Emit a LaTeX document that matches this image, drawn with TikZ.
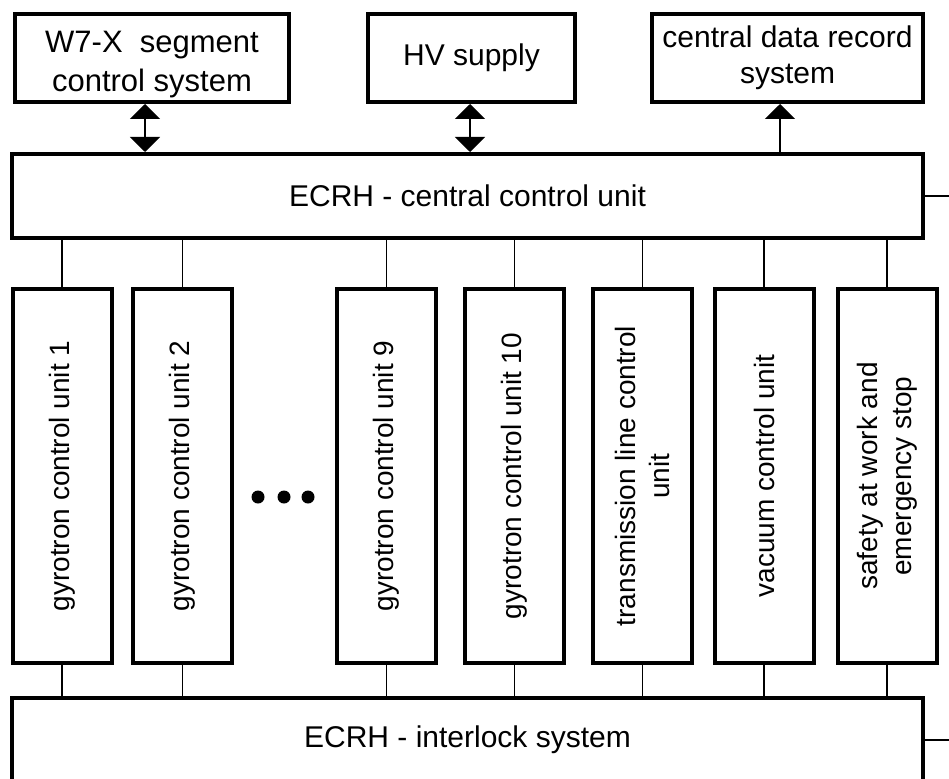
\documentclass[tikz,border=0pt]{standalone}
\usepackage{fontspec}
\setmainfont{Liberation Sans}
\usetikzlibrary{arrows.meta}
\begin{document}
\begin{tikzpicture}[x=1pt,y=-1pt,
  box/.style={draw=black, line width=4pt, inner sep=0pt, fill=white, align=center,
    font=\fontsize{30}{36}\selectfont},
  topbox/.style={box, minimum height=88pt},
  unitbox/.style={box, minimum width=99pt, minimum height=374pt},
  vtext/.style={rotate=90, align=center, inner sep=0pt, font=\fontsize{28}{34}\selectfont},
  link/.style={line width=1.5pt},
  arr/.style={line width=1.5pt, -{Triangle[width=30pt,length=15pt]}},
  dblarr/.style={line width=1.5pt, {Triangle[width=30pt,length=15pt]}-{Triangle[width=30pt,length=15pt]}},
  dotnode/.style={circle, fill=black, inner sep=0pt, minimum size=13pt}]
\useasboundingbox (0,0) rectangle (949,778);
\clip (0,0) rectangle (949,778);
\fill[white] (0,0) rectangle (949,778);

% top row
\node[topbox, minimum width=274pt, font=\fontsize{31}{39}\selectfont] (w7) at (152,58) {\rule{0pt}{34pt}W7-X\ \ segment\\control system};
\node[topbox, minimum width=207pt] (hv) at (471.5,58) {HV supply};
\node[topbox, minimum width=271pt] (cdr) at (787.5,58) {central data record\\system};

% central control unit and interlock
\node[box, minimum width=911pt, minimum height=84pt] (cc) at (467.5,196) {ECRH - central control unit};
\node[box, minimum width=911pt, minimum height=84pt] (il) at (467.5,740) {ECRH - interlock system};

% unit boxes
\node[unitbox, label={[vtext]center:gyrotron control unit 1}] (g1) at (62,476) {};
\node[unitbox, label={[vtext]center:gyrotron control unit 2}] (g2) at (182.5,476) {};
\node[unitbox, label={[vtext]center:gyrotron control unit 9}] (g9) at (386.5,476) {};
\node[unitbox, label={[vtext]center:gyrotron control unit 10}] (g10) at (514.5,476) {};
\node[unitbox, label={[vtext]center:transmission line control\\unit}] (tl) at (642.5,476) {};
\node[unitbox, label={[vtext]center:vacuum control unit}] (vc) at (764,476) {};
\node[unitbox, label={[vtext]center:safety at work and\\emergency stop}] (sw) at (887,476) {};

% dots
\node[dotnode] (d1) at (258,497) {};
\node[dotnode] (d2) at (284,497) {};
\node[dotnode] (d3) at (308,497) {};

% arrows to top row
\draw[dblarr] ([xshift=-7pt]w7.south) -- ([xshift=-7pt]w7.south |- cc.north);
\draw[dblarr] ([xshift=-1.5pt]hv.south) -- ([xshift=-1.5pt]hv.south |- cc.north);
\draw[arr] ([xshift=-7.5pt]cdr.south |- cc.north) -- ([xshift=-7.5pt]cdr.south);

% links
\foreach \u in {g1,g2,g9,g10,tl,vc,sw}{
  \draw[link] (\u.north) -- (\u.north |- cc.south);
  \draw[link] (\u.south) -- (\u.south |- il.north);
}

% right stubs
\coordinate (ccR) at (949,196);
\coordinate (ilR) at (949,740);
\draw[link] (cc.east) -- (ccR);
\draw[link] (il.east) -- (ilR);
\end{tikzpicture}
\end{document}
